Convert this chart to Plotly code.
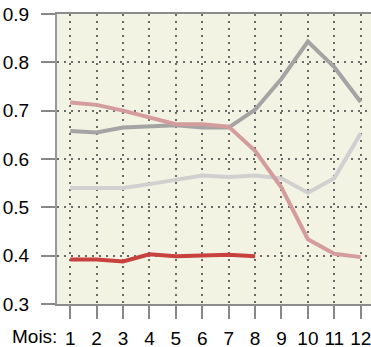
import plotly.graph_objects as go

months = list(range(1, 13))
tick_labels = [str(m) for m in months]

red_vals = [0.392, 0.392, 0.388, 0.403, 0.399, 0.400, 0.402, 0.399]
pink_vals = [0.717, 0.712, 0.700, 0.685, 0.672, 0.672, 0.667, 0.617, 0.541, 0.434, 0.404, 0.397]
dgray_vals = [0.658, 0.655, 0.665, 0.668, 0.670, 0.665, 0.665, 0.702, 0.766, 0.843, 0.790, 0.718]
lgray_vals = [0.540, 0.540, 0.540, 0.548, 0.558, 0.566, 0.563, 0.566, 0.560, 0.530, 0.560, 0.653]

fig = go.Figure()
fig.add_trace(go.Scatter(x=months, y=lgray_vals, mode="lines",
                         line=dict(color="#d0d0d0", width=4)))
fig.add_trace(go.Scatter(x=months, y=dgray_vals, mode="lines",
                         line=dict(color="#a4a4a4", width=4)))
fig.add_trace(go.Scatter(x=months, y=pink_vals, mode="lines",
                         line=dict(color="#d49c9c", width=4)))
fig.add_trace(go.Scatter(x=months[:8], y=red_vals, mode="lines",
                         line=dict(color="#c8413f", width=4)))

fig.update_layout(
    width=371, height=347,
    margin=dict(l=57, r=0, t=14, b=43),
    paper_bgcolor="white",
    plot_bgcolor="#f3f3e3",
    showlegend=False,
    font=dict(family="Liberation Sans, Arial", size=19, color="#000"),
)
fig.update_xaxes(
    range=[0.5, 12.39], automargin=False,
    tickmode="array", tickvals=months, ticktext=tick_labels,
    ticklabeloverflow="allow",
    showgrid=True, gridcolor="#6a6a6a", gridwidth=1.5, griddash="2px,5px",
    zeroline=False,
    showline=True, linecolor="#8c8c8c", linewidth=2, mirror=True,
    ticks="outside", ticklen=13, tickwidth=2, tickcolor="#888888",
    ticklabelstandoff=3,
)
fig.update_yaxes(
    range=[0.3, 0.9], automargin=False,
    tickmode="array", tickvals=[0.3, 0.4, 0.5, 0.6, 0.7, 0.8, 0.9],
    ticktext=["0.3", "0.4", "0.5", "0.6", "0.7", "0.8", "0.9"],
    showgrid=True, gridcolor="#6a6a6a", gridwidth=1.5, griddash="2px,5px",
    zeroline=False,
    showline=True, linecolor="#999999", linewidth=2,
    ticks="outside", ticklen=14, tickwidth=2, tickcolor="#888888",
    ticklabelstandoff=8,
)
fig.add_annotation(text="Mois:", xref="paper", yref="paper",
                   x=-47/314, y=0, xanchor="left", yanchor="top",
                   yshift=-20, showarrow=False,
                   font=dict(family="Liberation Sans, Arial", size=19, color="#000"))

fig.write_html("out.html", config={"displayModeBar": False},
               post_script="document.body.style.margin='0';")
